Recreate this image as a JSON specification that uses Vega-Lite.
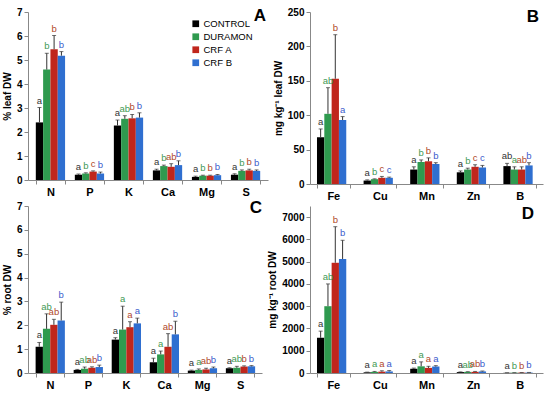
{
  "$schema": "https://vega.github.io/schema/vega-lite/v6.json",
  "padding": {"left": 2, "top": 7, "right": 2, "bottom": 2},
  "bounds": "flush",
  "config": {
    "font": "Liberation Sans",
    "view": {"stroke": null},
    "axis": {"domainColor": "#888", "tickColor": "#888", "labelColor": "#000", "labelFontWeight": "bold", "grid": false, "titleFontWeight": "bold", "titleFontSize": 10, "labelFontSize": 10, "labelOverlap": false},
    "axisX": {"labelAngle": 0, "labelFontSize": 11, "tickBand": "extent", "tickSize": 4, "title": null},
    "axisY": {"tickSize": 4, "titlePadding": 4, "format": "d"},
    "title": {"anchor": "end", "fontSize": 17, "fontWeight": "bold", "color": "#000"}
  },
  "datasets": {
    "A": [
      {"el": "N", "trt": "CONTROL", "v": 2.4, "e": 3.02, "l": "a"},
      {"el": "N", "trt": "DURAMON", "v": 4.6, "e": 5.28, "l": "b"},
      {"el": "N", "trt": "CRF A", "v": 5.45, "e": 6.02, "l": "b"},
      {"el": "N", "trt": "CRF B", "v": 5.18, "e": 5.35, "l": "b"},
      {"el": "P", "trt": "CONTROL", "v": 0.22, "e": 0.25, "l": "a"},
      {"el": "P", "trt": "DURAMON", "v": 0.27, "e": 0.3, "l": "b"},
      {"el": "P", "trt": "CRF A", "v": 0.35, "e": 0.38, "l": "c"},
      {"el": "P", "trt": "CRF B", "v": 0.27, "e": 0.33, "l": "b"},
      {"el": "K", "trt": "CONTROL", "v": 2.27, "e": 2.5, "l": "a"},
      {"el": "K", "trt": "DURAMON", "v": 2.55, "e": 2.68, "l": "ab"},
      {"el": "K", "trt": "CRF A", "v": 2.57, "e": 2.73, "l": "b"},
      {"el": "K", "trt": "CRF B", "v": 2.6, "e": 2.8, "l": "b"},
      {"el": "Ca", "trt": "CONTROL", "v": 0.4, "e": 0.45, "l": "a"},
      {"el": "Ca", "trt": "DURAMON", "v": 0.58, "e": 0.62, "l": "b"},
      {"el": "Ca", "trt": "CRF A", "v": 0.55, "e": 0.68, "l": "ab"},
      {"el": "Ca", "trt": "CRF B", "v": 0.62, "e": 0.8, "l": "b"},
      {"el": "Mg", "trt": "CONTROL", "v": 0.13, "e": 0.16, "l": "a"},
      {"el": "Mg", "trt": "DURAMON", "v": 0.18, "e": 0.2, "l": "b"},
      {"el": "Mg", "trt": "CRF A", "v": 0.18, "e": 0.2, "l": "b"},
      {"el": "Mg", "trt": "CRF B", "v": 0.2, "e": 0.23, "l": "b"},
      {"el": "S", "trt": "CONTROL", "v": 0.22, "e": 0.26, "l": "a"},
      {"el": "S", "trt": "DURAMON", "v": 0.38, "e": 0.42, "l": "b"},
      {"el": "S", "trt": "CRF A", "v": 0.4, "e": 0.45, "l": "b"},
      {"el": "S", "trt": "CRF B", "v": 0.38, "e": 0.42, "l": "b"}
    ],
    "B": [
      {"el": "Fe", "trt": "CONTROL", "v": 68, "e": 80, "l": "a"},
      {"el": "Fe", "trt": "DURAMON", "v": 102, "e": 140, "l": "ab"},
      {"el": "Fe", "trt": "CRF A", "v": 153, "e": 217, "l": "b"},
      {"el": "Fe", "trt": "CRF B", "v": 93, "e": 98, "l": "a"},
      {"el": "Cu", "trt": "CONTROL", "v": 5, "e": 6, "l": "a"},
      {"el": "Cu", "trt": "DURAMON", "v": 7, "e": 7.5, "l": "b"},
      {"el": "Cu", "trt": "CRF A", "v": 9, "e": 11, "l": "c"},
      {"el": "Cu", "trt": "CRF B", "v": 9, "e": 10, "l": "c"},
      {"el": "Mn", "trt": "CONTROL", "v": 21, "e": 25, "l": "a"},
      {"el": "Mn", "trt": "DURAMON", "v": 32, "e": 35, "l": "b"},
      {"el": "Mn", "trt": "CRF A", "v": 33, "e": 38, "l": "b"},
      {"el": "Mn", "trt": "CRF B", "v": 29, "e": 31, "l": "b"},
      {"el": "Zn", "trt": "CONTROL", "v": 17, "e": 19, "l": "a"},
      {"el": "Zn", "trt": "DURAMON", "v": 21, "e": 23, "l": "b"},
      {"el": "Zn", "trt": "CRF A", "v": 25, "e": 28, "l": "c"},
      {"el": "Zn", "trt": "CRF B", "v": 24, "e": 27, "l": "c"},
      {"el": "B", "trt": "CONTROL", "v": 26, "e": 30, "l": "ab"},
      {"el": "B", "trt": "DURAMON", "v": 21, "e": 25, "l": "a"},
      {"el": "B", "trt": "CRF A", "v": 21, "e": 25, "l": "ab"},
      {"el": "B", "trt": "CRF B", "v": 27, "e": 31, "l": "b"}
    ],
    "C": [
      {"el": "N", "trt": "CONTROL", "v": 1.1, "e": 1.28, "l": "a"},
      {"el": "N", "trt": "DURAMON", "v": 1.85, "e": 2.48, "l": "ab"},
      {"el": "N", "trt": "CRF A", "v": 2.02, "e": 2.25, "l": "ab"},
      {"el": "N", "trt": "CRF B", "v": 2.2, "e": 2.97, "l": "b"},
      {"el": "P", "trt": "CONTROL", "v": 0.13, "e": 0.15, "l": "a"},
      {"el": "P", "trt": "DURAMON", "v": 0.18, "e": 0.25, "l": "ab"},
      {"el": "P", "trt": "CRF A", "v": 0.22, "e": 0.26, "l": "ab"},
      {"el": "P", "trt": "CRF B", "v": 0.25, "e": 0.33, "l": "b"},
      {"el": "K", "trt": "CONTROL", "v": 1.4, "e": 1.48, "l": "a"},
      {"el": "K", "trt": "DURAMON", "v": 1.82, "e": 2.8, "l": "a"},
      {"el": "K", "trt": "CRF A", "v": 1.92, "e": 2.15, "l": "a"},
      {"el": "K", "trt": "CRF B", "v": 2.08, "e": 2.3, "l": "a"},
      {"el": "Ca", "trt": "CONTROL", "v": 0.45, "e": 0.62, "l": "a"},
      {"el": "Ca", "trt": "DURAMON", "v": 0.78, "e": 0.92, "l": "a"},
      {"el": "Ca", "trt": "CRF A", "v": 1.1, "e": 1.65, "l": "ab"},
      {"el": "Ca", "trt": "CRF B", "v": 1.62, "e": 2.17, "l": "b"},
      {"el": "Mg", "trt": "CONTROL", "v": 0.1, "e": 0.12, "l": "a"},
      {"el": "Mg", "trt": "DURAMON", "v": 0.13, "e": 0.17, "l": "a"},
      {"el": "Mg", "trt": "CRF A", "v": 0.15, "e": 0.2, "l": "ab"},
      {"el": "Mg", "trt": "CRF B", "v": 0.2, "e": 0.25, "l": "b"},
      {"el": "S", "trt": "CONTROL", "v": 0.2, "e": 0.22, "l": "a"},
      {"el": "S", "trt": "DURAMON", "v": 0.22, "e": 0.28, "l": "ab"},
      {"el": "S", "trt": "CRF A", "v": 0.27, "e": 0.3, "l": "b"},
      {"el": "S", "trt": "CRF B", "v": 0.28, "e": 0.31, "l": "b"}
    ],
    "D": [
      {"el": "Fe", "trt": "CONTROL", "v": 1580, "e": 1880, "l": "a"},
      {"el": "Fe", "trt": "DURAMON", "v": 3000, "e": 4000, "l": "ab"},
      {"el": "Fe", "trt": "CRF A", "v": 4950, "e": 6570, "l": "b"},
      {"el": "Fe", "trt": "CRF B", "v": 5120, "e": 5960, "l": "b"},
      {"el": "Cu", "trt": "CONTROL", "v": 30, "e": 40, "l": "a"},
      {"el": "Cu", "trt": "DURAMON", "v": 50, "e": 70, "l": "a"},
      {"el": "Cu", "trt": "CRF A", "v": 60, "e": 100, "l": "a"},
      {"el": "Cu", "trt": "CRF B", "v": 70, "e": 110, "l": "a"},
      {"el": "Mn", "trt": "CONTROL", "v": 190, "e": 220, "l": "a"},
      {"el": "Mn", "trt": "DURAMON", "v": 300, "e": 500, "l": "a"},
      {"el": "Mn", "trt": "CRF A", "v": 230, "e": 300, "l": "a"},
      {"el": "Mn", "trt": "CRF B", "v": 290, "e": 330, "l": "a"},
      {"el": "Zn", "trt": "CONTROL", "v": 40, "e": 50, "l": "a"},
      {"el": "Zn", "trt": "DURAMON", "v": 50, "e": 60, "l": "ab"},
      {"el": "Zn", "trt": "CRF A", "v": 50, "e": 70, "l": "ab"},
      {"el": "Zn", "trt": "CRF B", "v": 70, "e": 90, "l": "b"},
      {"el": "B", "trt": "CONTROL", "v": 10, "e": 12, "l": "a"},
      {"el": "B", "trt": "DURAMON", "v": 15, "e": 18, "l": "b"},
      {"el": "B", "trt": "CRF A", "v": 18, "e": 22, "l": "b"},
      {"el": "B", "trt": "CRF B", "v": 20, "e": 25, "l": "b"}
    ]
  },
  "columns": 2,
  "spacing": {"row": 22, "column": 42},
  "resolve": {"legend": {"color": "independent"}, "scale": {"color": "independent", "fill": "independent"}},
  "concat": [
    {
      "width": 240, "height": 168,
      "data": {"name": "A"},
      "title": {"text": "A", "offset": -18, "dx": -2},
      "encoding": {
        "x": {"field": "el", "type": "nominal", "sort": ["N", "P", "K", "Ca", "Mg", "S"], "scale": {"paddingInner": 0.25, "paddingOuter": 0.2}},
        "xOffset": {"field": "trt", "type": "nominal", "sort": ["CONTROL", "DURAMON", "CRF A", "CRF B"]},
        "y": {"field": "v", "type": "quantitative", "title": "% leaf DW", "scale": {"domain": [0, 7]}, "axis": {"values": [0,1,2,3,4,5,6,7], "tickCount": 8}}
      },
      "layer": [
        {"mark": {"type": "bar"}, "encoding": {
          "color": {"field": "trt", "type": "nominal", "scale": {"domain": ["CONTROL", "DURAMON", "CRF A", "CRF B"], "range": ["#000000", "#2f9a4f", "#c0261c", "#2f6fd0"]},
            "legend": {"orient": "none", "legendX": 163, "legendY": 7, "title": null, "symbolType": "square", "symbolSize": 45, "labelFontSize": 9.5, "rowPadding": 2, "labelColor": "#000", "symbolStrokeWidth": 0, "labelOffset": 3}}
        }},
        {"mark": {"type": "rule", "color": "#333", "strokeWidth": 1}, "encoding": {"y2": {"field": "e"}}},
        {"mark": {"type": "tick", "color": "#333", "size": 4, "thickness": 1, "orient": "horizontal"}, "encoding": {
          "y": {"field": "e", "type": "quantitative"}}},
        {"mark": {"type": "text", "baseline": "bottom", "dy": -2, "fontSize": 9.5}, "encoding": {
          "y": {"field": "e", "type": "quantitative"},
          "text": {"field": "l"},
          "fill": {"field": "trt", "type": "nominal", "scale": {"domain": ["CONTROL", "DURAMON", "CRF A", "CRF B"], "range": ["#333333", "#3f9a55", "#b0482a", "#3c5ccc"]}, "legend": null}}}
      ]
    },
    {
      "width": 233, "height": 172,
      "data": {"name": "B"},
      "title": {"text": "B", "offset": -19, "dx": -4},
      "encoding": {
        "x": {"field": "el", "type": "nominal", "sort": ["Fe", "Cu", "Mn", "Zn", "B"], "scale": {"paddingInner": 0.3, "paddingOuter": 0.15}},
        "xOffset": {"field": "trt", "type": "nominal", "sort": ["CONTROL", "DURAMON", "CRF A", "CRF B"]},
        "y": {"field": "v", "type": "quantitative", "title": "mg kg⁻¹ leaf DW", "scale": {"domain": [0, 250]}, "axis": {"values": [0,50,100,150,200,250], "tickCount": 6}}
      },
      "layer": [
        {"mark": {"type": "bar"}, "encoding": {
          "color": {"field": "trt", "type": "nominal", "scale": {"domain": ["CONTROL", "DURAMON", "CRF A", "CRF B"], "range": ["#000000", "#2f9a4f", "#c0261c", "#2f6fd0"]}, "legend": null}
        }},
        {"mark": {"type": "rule", "color": "#333", "strokeWidth": 1}, "encoding": {"y2": {"field": "e"}}},
        {"mark": {"type": "tick", "color": "#333", "size": 4, "thickness": 1, "orient": "horizontal"}, "encoding": {
          "y": {"field": "e", "type": "quantitative"}}},
        {"mark": {"type": "text", "baseline": "bottom", "dy": -2, "fontSize": 9.5}, "encoding": {
          "y": {"field": "e", "type": "quantitative"},
          "text": {"field": "l"},
          "fill": {"field": "trt", "type": "nominal", "scale": {"domain": ["CONTROL", "DURAMON", "CRF A", "CRF B"], "range": ["#333333", "#3f9a55", "#b0482a", "#3c5ccc"]}, "legend": null}}}
      ]
    },
    {
      "width": 234, "height": 167,
      "data": {"name": "C"},
      "title": {"text": "C", "offset": -16, "dx": 0},
      "encoding": {
        "x": {"field": "el", "type": "nominal", "sort": ["N", "P", "K", "Ca", "Mg", "S"], "scale": {"paddingInner": 0.25, "paddingOuter": 0.2}},
        "xOffset": {"field": "trt", "type": "nominal", "sort": ["CONTROL", "DURAMON", "CRF A", "CRF B"]},
        "y": {"field": "v", "type": "quantitative", "title": "% root DW", "scale": {"domain": [0, 7]}, "axis": {"values": [0,1,2,3,4,5,6,7], "tickCount": 8}}
      },
      "layer": [
        {"mark": {"type": "bar"}, "encoding": {
          "color": {"field": "trt", "type": "nominal", "scale": {"domain": ["CONTROL", "DURAMON", "CRF A", "CRF B"], "range": ["#000000", "#2f9a4f", "#c0261c", "#2f6fd0"]}, "legend": null}
        }},
        {"mark": {"type": "rule", "color": "#333", "strokeWidth": 1}, "encoding": {"y2": {"field": "e"}}},
        {"mark": {"type": "tick", "color": "#333", "size": 4, "thickness": 1, "orient": "horizontal"}, "encoding": {
          "y": {"field": "e", "type": "quantitative"}}},
        {"mark": {"type": "text", "baseline": "bottom", "dy": -2, "fontSize": 9.5}, "encoding": {
          "y": {"field": "e", "type": "quantitative"},
          "text": {"field": "l"},
          "fill": {"field": "trt", "type": "nominal", "scale": {"domain": ["CONTROL", "DURAMON", "CRF A", "CRF B"], "range": ["#333333", "#3f9a55", "#b0482a", "#3c5ccc"]}, "legend": null}}}
      ]
    },
    {
      "width": 233, "height": 167,
      "data": {"name": "D"},
      "title": {"text": "D", "offset": -17, "dx": -9},
      "encoding": {
        "x": {"field": "el", "type": "nominal", "sort": ["Fe", "Cu", "Mn", "Zn", "B"], "scale": {"paddingInner": 0.3, "paddingOuter": 0.15}},
        "xOffset": {"field": "trt", "type": "nominal", "sort": ["CONTROL", "DURAMON", "CRF A", "CRF B"]},
        "y": {"field": "v", "type": "quantitative", "title": "mg kg⁻¹ root DW", "scale": {"domain": [0, 7500]}, "axis": {"values": [0,1000,2000,3000,4000,5000,6000,7000], "tickCount": 8}}
      },
      "layer": [
        {"mark": {"type": "bar"}, "encoding": {
          "color": {"field": "trt", "type": "nominal", "scale": {"domain": ["CONTROL", "DURAMON", "CRF A", "CRF B"], "range": ["#000000", "#2f9a4f", "#c0261c", "#2f6fd0"]}, "legend": null}
        }},
        {"mark": {"type": "rule", "color": "#333", "strokeWidth": 1}, "encoding": {"y2": {"field": "e"}}},
        {"mark": {"type": "tick", "color": "#333", "size": 4, "thickness": 1, "orient": "horizontal"}, "encoding": {
          "y": {"field": "e", "type": "quantitative"}}},
        {"mark": {"type": "text", "baseline": "bottom", "dy": -2, "fontSize": 9.5}, "encoding": {
          "y": {"field": "e", "type": "quantitative"},
          "text": {"field": "l"},
          "fill": {"field": "trt", "type": "nominal", "scale": {"domain": ["CONTROL", "DURAMON", "CRF A", "CRF B"], "range": ["#333333", "#3f9a55", "#b0482a", "#3c5ccc"]}, "legend": null}}}
      ]
    }
  ]
}
